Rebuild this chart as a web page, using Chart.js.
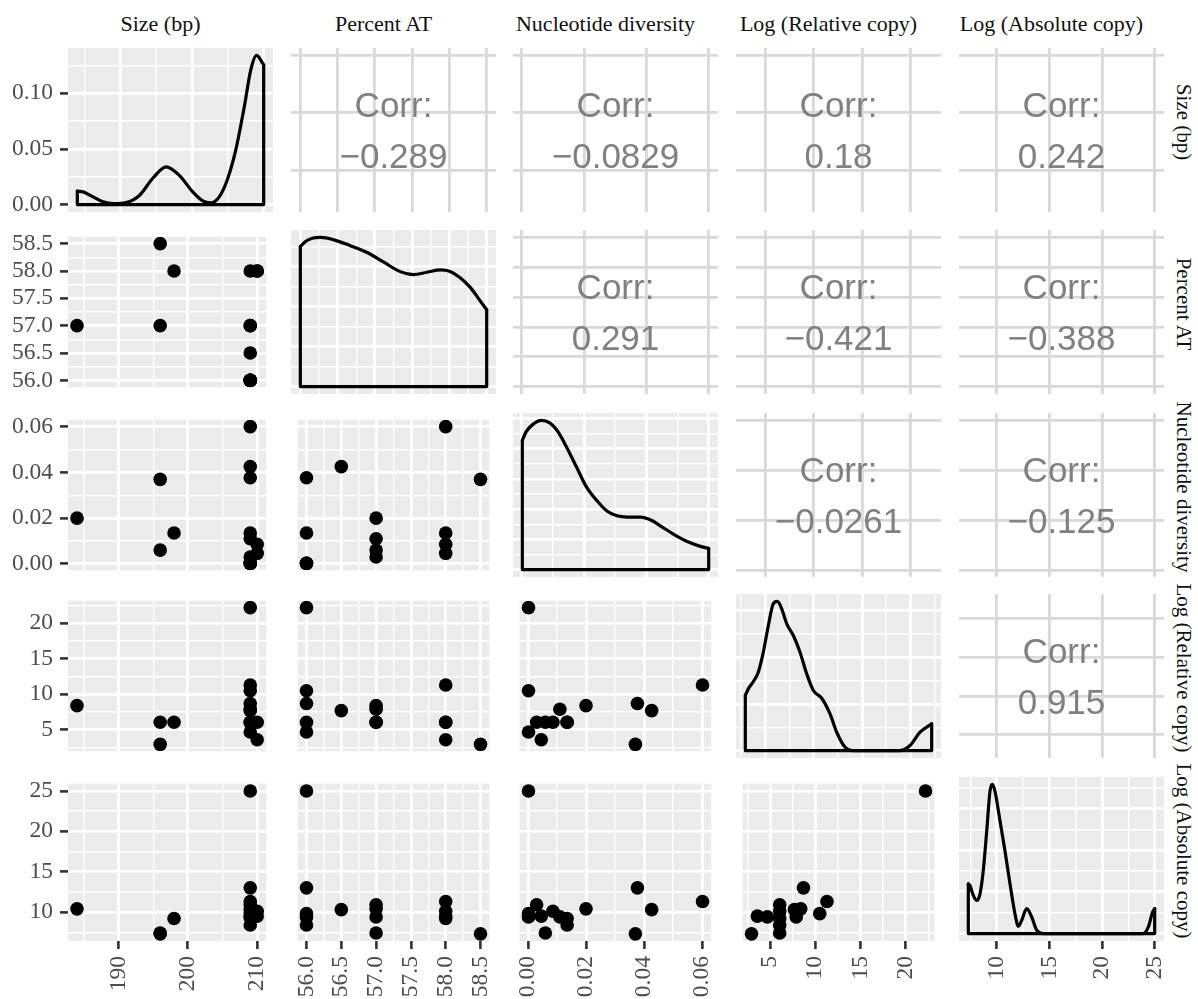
<!DOCTYPE html>
<html>
<head>
<meta charset="utf-8">
<script src="https://cdn.jsdelivr.net/npm/chart.js@4.4.0/dist/chart.umd.min.js"></script>
<style>
  body { margin: 0; background: #fff; }
  #fig { position: relative; width: 1198px; height: 999px; overflow: hidden; }
  #fig canvas { position: absolute; }
  .strip { position: absolute; font-family: "Liberation Serif", "Times New Roman", serif; font-size: 22px;
           color: #111; white-space: nowrap; text-align: center; height: 28px; line-height: 28px; }
  .strip.side { font-size: 21px; }
  .corr { position: absolute; font-family: "Liberation Sans", Arial, sans-serif; font-size: 35px;
          color: #808080; text-align: center; line-height: 51px; white-space: nowrap; }
</style>
</head>
<body>
<div id="fig"></div>
<script>
const sizeBp    = [184, 196, 196, 198, 209, 209, 209, 209, 209, 209, 209, 209, 209, 210, 210];
const percentAT = [57.0, 58.5, 57.0, 58.0, 56.0, 56.0, 56.0, 56.0, 56.0, 56.5, 57.0, 57.0, 58.0, 58.0, 58.0];
const nucDiv    = [0.020, 0.037, 0.006, 0.0135, 0.0002, 0.0002, 0.0002, 0.0135, 0.0377, 0.0426, 0.011, 0.003, 0.0601, 0.0086, 0.0046];
const logRel    = [8.4, 2.95, 6.07, 6.07, 22.2, 10.5, 4.7, 6.07, 8.7, 7.7, 7.9, 6.07, 11.3, 6.07, 3.6];
const logAbs    = [10.4, 7.3, 7.4, 9.2, 25.0, 9.8, 9.4, 8.4, 13.0, 10.3, 9.4, 10.9, 11.3, 10.1, 9.5];

// diagonal density curves (x, density)
const sizeDensX = [184, 184.8, 186.2, 187.6, 189.0, 190.8, 192.7, 194.5, 196.4, 198.2, 200.1, 201.5, 202.6, 203.8, 204.9, 206.1, 207.3, 208.2, 209.0, 210];
const sizeDensY = [0.0120, 0.0114, 0.0069, 0.0024, 0.0009, 0.0018, 0.0084, 0.0234, 0.0339, 0.0264, 0.0114, 0.0033, 0.0015, 0.0069, 0.0219, 0.0489, 0.088, 0.121, 0.134, 0.1255];
const atDensX = [56.0, 56.07, 56.16, 56.27, 56.45, 56.67, 56.89, 57.12, 57.34, 57.52, 57.70, 57.88, 58.01, 58.14, 58.28, 58.41, 58.5];
const atDensY = [0.350, 0.363, 0.371, 0.373, 0.367, 0.3525, 0.336, 0.311, 0.2875, 0.280, 0.286, 0.292, 0.288, 0.273, 0.248, 0.215, 0.192];
const ndDensX = [0.0002, 0.0014, 0.0036, 0.0063, 0.009, 0.0117, 0.0144, 0.0177, 0.0209, 0.0242, 0.0274, 0.0306, 0.0339, 0.0382, 0.0415, 0.0447, 0.049, 0.0534, 0.0577, 0.0601];
const ndDensY = [21.4, 22.8, 24.05, 24.7, 24.3, 22.8, 20.3, 16.9, 13.6, 11.4, 9.7, 8.9, 8.7, 8.7, 8.2, 7.2, 5.8, 4.6, 3.8, 3.5];
const lrDensX = [2.95, 3.26, 3.78, 4.29, 4.81, 5.33, 5.84, 6.26, 6.71, 7.23, 7.91, 8.60, 9.29, 9.98, 10.84, 11.70, 12.39, 13.25, 14.11, 15.49, 18.93, 19.96, 21.0, 22.2];
const lrDensY = [0.0472, 0.0529, 0.0592, 0.0672, 0.0844, 0.1073, 0.1259, 0.1279, 0.1216, 0.1087, 0.0987, 0.0844, 0.0658, 0.0515, 0.0449, 0.0315, 0.0157, 0.0029, 0, 0, 0, 0.0043, 0.0157, 0.0229];
const laDensX = [7.3, 7.46, 7.77, 8.10, 8.41, 8.72, 9.05, 9.36, 9.58, 9.83, 10.31, 10.78, 11.26, 11.73, 12.05, 12.37, 12.84, 13.32, 13.79, 14.42, 18.22, 23.9, 24.4, 24.8, 25.0];
const laDensY = [0.0476, 0.046, 0.0365, 0.0317, 0.0381, 0.0603, 0.0984, 0.1365, 0.1429, 0.1365, 0.1079, 0.0794, 0.0476, 0.019, 0.007, 0.0127, 0.0238, 0.0159, 0.0032, 0, 0, 0, 0.0063, 0.0206, 0.0238];

// major tick labels
const sizeTicks = [190, 200, 210];
const atTicks = [56.0, 56.5, 57.0, 57.5, 58.0, 58.5];
const ndTicks = [0.00, 0.02, 0.04, 0.06];
const lrTicks = [5, 10, 15, 20];
const laTicks = [10, 15, 20, 25];
const sizeDensTicks = [0, 0.05, 0.10];
const atDensTicks = [0, 0.1, 0.2, 0.3];
const ndDensTicks = [0, 5, 10, 15, 20];
const lrDensTicks = [0, 0.04, 0.08, 0.12];
const laDensTicks = [0, 0.04, 0.08, 0.12];

const varNames = ['Size (bp)', 'Percent AT', 'Nucleotide diversity', 'Log (Relative copy)', 'Log (Absolute copy)'];
const corrRows = [[-0.289, -0.0829, 0.18, 0.242], [0.291, -0.421, -0.388], [-0.0261, -0.125], [0.915]];

const vars = [
  { data: sizeBp,    ticks: sizeTicks, dec: 0, dx: sizeDensX, dy: sizeDensY, dt: sizeDensTicks },
  { data: percentAT, ticks: atTicks,   dec: 1, dx: atDensX,   dy: atDensY,   dt: atDensTicks },
  { data: nucDiv,    ticks: ndTicks,   dec: 2, dx: ndDensX,   dy: ndDensY,   dt: ndDensTicks },
  { data: logRel,    ticks: lrTicks,   dec: 0, dx: lrDensX,   dy: lrDensY,   dt: lrDensTicks },
  { data: logAbs,    ticks: laTicks,   dec: 0, dx: laDensX,   dy: laDensY,   dt: laDensTicks }
];

const L = [68, 291, 513, 736, 959], T = [48, 230, 413, 594, 777];
const W = 205, H = 164, AXW = 68, AXH = 58;
const fig = document.getElementById('fig');

function expand(lo, hi) { const r = hi - lo; return [lo - 0.05 * r, hi + 0.05 * r]; }
function domainOf(arr) { return expand(Math.min(...arr), Math.max(...arr)); }

function gridTicks(majors, dom, withMinor) {
  const half = (majors[1] - majors[0]) / 2;
  const out = [];
  for (let k = Math.ceil((dom[0] - majors[0]) / half - 1e-9); majors[0] + k * half <= dom[1] + 1e-12; k++) {
    const major = ((k % 2) + 2) % 2 === 0;
    if (!withMinor && !major) continue;
    out.push({ value: +(majors[0] + k * half).toPrecision(12), major });
  }
  return out;
}

const panelBg = {
  id: 'panelBg',
  beforeDraw(chart, args, opts) {
    const a = chart.chartArea, c = chart.ctx;
    c.save();
    c.fillStyle = opts.color;
    c.fillRect(a.left, a.top, a.right - a.left, a.bottom - a.top);
    c.restore();
  }
};

function scaleCfg(axis, dom, ticks, o) {
  const maj = i => ticks[i] && ticks[i].major;
  return {
    type: 'linear', position: axis === 'x' ? 'bottom' : 'left',
    min: dom[0], max: dom[1],
    afterBuildTicks: s => { s.ticks = ticks.map(t => ({ value: t.value })); },
    afterFit: s => {
      if (axis === 'x') s.height = o.labels ? AXH : 0;
      else s.width = o.labels ? AXW : 0;
      s.paddingLeft = s.paddingRight = s.paddingTop = s.paddingBottom = 0;
    },
    ticks: {
      display: o.labels, autoSkip: false, padding: 7,
      minRotation: axis === 'x' ? 90 : 0, maxRotation: axis === 'x' ? 90 : 0,
      color: '#4d4d4d', font: { family: '"Liberation Serif", "Times New Roman", serif', size: 23.5 },
      callback: (v, i) => maj(i) ? v.toFixed(o.dec) : ''
    },
    grid: {
      drawTicks: o.labels, tickLength: 8,
      color: o.upper ? '#d9d9d9' : '#ffffff',
      lineWidth: c => maj(c.index) ? 2.8 : 1.4,
      tickColor: c => maj(c.index) ? '#333333' : 'rgba(0,0,0,0)',
      tickWidth: 2.6
    },
    border: { display: false }
  };
}

function densitySets(v) {
  const n = v.dx.length;
  const curve = v.dx.map((x, i) => ({ x, y: v.dy[i] }));
  const frame = [{ x: v.dx[0], y: v.dy[0] }, { x: v.dx[0], y: 0 }, { x: v.dx[n - 1], y: 0 }, { x: v.dx[n - 1], y: v.dy[n - 1] }];
  const line = { showLine: true, pointRadius: 0, borderColor: '#000', borderWidth: 3.2, borderJoinStyle: 'round', borderCapStyle: 'round' };
  return [
    Object.assign({ data: curve, cubicInterpolationMode: 'monotone' }, line),
    Object.assign({ data: frame, tension: 0 }, line)
  ];
}

function panel(r, c) {
  const cv = document.createElement('canvas');
  const left = c === 0 ? 0 : L[c], top = T[r];
  const w = c === 0 ? AXW + W : W, h = r === 4 ? H + AXH : H;
  cv.width = w; cv.height = h;
  cv.style.left = left + 'px'; cv.style.top = top + 'px';
  cv.style.width = w + 'px'; cv.style.height = h + 'px';
  fig.appendChild(cv);

  const vx = vars[c], vy = vars[r];
  const upper = r < c, diag = r === c;
  const xDom = domainOf(vx.data);
  let yDom, yTicks, yDec, datasets = [];
  if (diag) {
    const dmax = Math.max(...vx.dy);
    yDom = [-0.05 * dmax, 1.05 * dmax];
    yTicks = gridTicks(vx.dt, yDom, true);
    yDec = 2;
    datasets = densitySets(vx);
  } else {
    yDom = domainOf(vy.data);
    yTicks = gridTicks(vy.ticks, yDom, !upper);
    yDec = vy.dec;
    if (!upper) {
      datasets = [{
        data: vx.data.map((x, i) => ({ x, y: vy.data[i] })),
        pointRadius: 6.8, pointBorderWidth: 0, backgroundColor: '#000', borderColor: '#000'
      }];
    }
  }
  const xTicks = gridTicks(vx.ticks, xDom, !upper);

  new Chart(cv, {
    type: 'scatter',
    data: { datasets },
    options: {
      responsive: false, animation: false, events: [], devicePixelRatio: 1,
      layout: { padding: 0 },
      scales: {
        x: scaleCfg('x', xDom, xTicks, { labels: r === 4, dec: vx.dec, upper }),
        y: scaleCfg('y', yDom, yTicks, { labels: c === 0, dec: yDec, upper })
      },
      plugins: { legend: { display: false }, tooltip: { enabled: false }, panelBg: { color: upper ? '#ffffff' : '#ebebeb' } }
    },
    plugins: [panelBg]
  });

  if (upper) {
    const val = corrRows[r][c - r - 1];
    const d = document.createElement('div');
    d.className = 'corr';
    d.style.left = L[c] + 'px'; d.style.width = W + 'px';
    d.style.top = (T[r] + H / 2 - 51) + 'px';
    d.innerHTML = 'Corr:<br>' + (val < 0 ? '\u2212' + String(-val) : String(val));
    fig.appendChild(d);
  }
}

for (let r = 0; r < 5; r++) for (let c = 0; c < 5; c++) panel(r, c);

varNames.forEach((name, i) => {
  const t = document.createElement('div');
  t.className = 'strip';
  t.textContent = name;
  t.style.left = (L[i] - 30) + 'px'; t.style.width = (W + 40) + 'px'; t.style.top = '10px';
  fig.appendChild(t);

  const s = document.createElement('div');
  s.className = 'strip side';
  s.textContent = name;
  s.style.width = (H + 40) + 'px';
  s.style.left = (1184 - (H + 40) / 2) + 'px';
  s.style.top = (T[i] + H / 2 - 14 - 8) + 'px';
  s.style.transform = 'rotate(90deg)';
  fig.appendChild(s);
});
</script>
</body>
</html>
